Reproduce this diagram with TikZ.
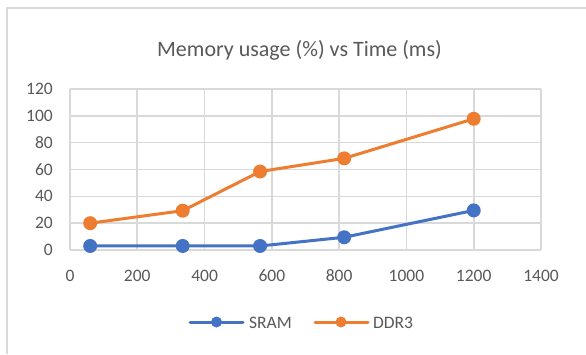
\documentclass[tikz,border=0pt]{standalone}
\usepackage{fontspec}
\setmainfont{Carlito}
\definecolor{gridc}{HTML}{D9D9D9}
\definecolor{txtc}{HTML}{595959}
\definecolor{sramc}{HTML}{4472C4}
\definecolor{ddrc}{HTML}{ED7D31}
\tikzset{
  gridline/.style={draw=gridc, line width=1.6pt},
  ticklab/.style={text=txtc, font=\fontsize{17.5}{20}\selectfont, inner sep=0pt},
  serline/.style={line width=3pt, line cap=round, line join=round},
  marker/.style={circle, inner sep=0pt, minimum size=14pt},
  legmarker/.style={circle, inner sep=0pt, minimum size=11pt},
}
\begin{document}
\begin{tikzpicture}[x=1pt, y=-1pt]
\useasboundingbox (0,0) rectangle (586,354);
\fill[white] (0,0) rectangle (586,354);
% chart frame (top and left visible)
\draw[gridc, line width=2pt] (6.7,354) -- (6.7,7.5) -- (586,7.5);
% title
\node[text=txtc, font=\fontsize{22}{26}\selectfont, anchor=base, inner sep=0pt] (title) at (299.5,56) {Memory usage (\%) vs Time (ms)};
% grid
\foreach \k in {0,...,7} {
  \draw[gridline] ({70+\k*67.2857},89) -- ({70+\k*67.2857},250);
  \pgfmathtruncatemacro{\lab}{\k*200}
  \node[ticklab, anchor=base] (xl\k) at ({70+\k*67.2857},281) {\lab};
}
\foreach \k in {0,...,6} {
  \draw[gridline] (70,{250-\k*26.8333}) -- (541,{250-\k*26.8333});
  \pgfmathtruncatemacro{\lab}{\k*20}
  \node[ticklab, anchor=base east] (yl\k) at (53,{255.5-\k*26.8333}) {\lab};
}
% data
\begin{scope}[shift={(70,250)}, x=0.336429pt, y=1.341667pt]
  \coordinate (s1) at (60,3);
  \coordinate (s2) at (335,3);
  \coordinate (s3) at (565,3);
  \coordinate (s4) at (815,9.5);
  \coordinate (s5) at (1200,29.5);
  \coordinate (d1) at (60,20);
  \coordinate (d2) at (335,29.3);
  \coordinate (d3) at (565,58.5);
  \coordinate (d4) at (815,68.3);
  \coordinate (d5) at (1200,97.8);
\end{scope}
\draw[serline, sramc] (s1) -- (s2) -- (s3) -- (s4) -- (s5);
\draw[serline, ddrc] (d1) -- (d2) -- (d3) -- (d4) -- (d5);
\foreach \p in {s1,s2,s3,s4,s5} \node[marker, fill=sramc] at (\p) {};
\foreach \p in {d1,d2,d3,d4,d5} \node[marker, fill=ddrc] at (\p) {};
% legend
\coordinate (la) at (190,322);
\coordinate (lb) at (243,322);
\coordinate (lc) at (315,322);
\coordinate (ld) at (368,322);
\draw[serline, sramc] (la) -- (lb);
\node[legmarker, fill=sramc] (lsm) at (216.5,322) {};
\node[ticklab, anchor=base west] (lst) at (249,328.3) {SRAM};
\draw[serline, ddrc] (lc) -- (ld);
\node[legmarker, fill=ddrc] (ldm) at (341,322) {};
\node[ticklab, anchor=base west] (ldt) at (373,328.3) {DDR3};
\end{tikzpicture}
\end{document}
